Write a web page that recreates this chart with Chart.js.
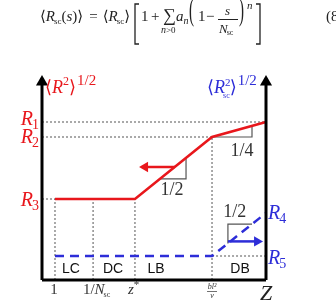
<!DOCTYPE html>
<html>
<head>
<meta charset="utf-8">
<script src="https://cdn.jsdelivr.net/npm/chart.js@4"></script>
<style>
html, body { margin: 0; background: #fff; }
</style>
</head>
<body>
<canvas id="scaling" width="336" height="303"></canvas>
<script>
// =======================================
// SCHEMATIC VALUES (arbitrary units, 0..10 on both axes)
// =======================================

// regime boundaries along z : 1, 1/Nsc, z*, bl^2/v
const boundaryX = [0.58, 2.28, 4.15, 7.59];

// levels R1..R5
const levelY = [7.9, 7.15, 4.05, 3.35, 1.2];

// <R^2>^1/2 (red) and <Rsc^2>^1/2 (blue)
const rgX = [0.58, 4.15, 7.59, 10];
const rgY = [4.05, 4.05, 7.15, 7.9];
const rscX = [0.58, 7.59, 10];
const rscY = [1.2, 1.2, 3.35];

// regime names and where they sit
const regimeNames = ["LC", "DC", "LB", "DB"];
const regimeX = [1.29, 3.17, 5.09, 8.84];

// slope marks
const slopeRed = [[5.27, 5.06], [6.43, 5.06], [6.43, 6.1]];
const slopeQuarter = [[7.59, 7.15], [9.375, 7.15], [9.375, 7.71]];
const slopeBlue = [[8.3, 1.83], [8.3, 2.79], [9.375, 2.79]];
const slopeText = ["1/2", "1/4", "1/2"];
const slopeTextAt = [[5.8, 4.25], [8.93, 6.2], [8.6, 3.15]];

// direction arrows
const arrowRed = [[5.94, 5.65], [4.6, 5.65]];
const arrowBlue = [[8.3, 1.93], [9.6, 1.93]];

const RED = "#e8171c";
const BLUE = "#2d2dd8";
const GREY = "#555";

const pts = (xs, ys) => xs.map((x, i) => ({ x: x, y: ys[i] }));
const pairs = a => a.map(p => ({ x: p[0], y: p[1] }));

// dotted guide lines
const guides = [
    [[0, levelY[0]], [10, levelY[0]]],
    [[0, levelY[1]], [boundaryX[3], levelY[1]]],
    [[0, levelY[2]], [boundaryX[0], levelY[2]]],
    [[boundaryX[3], levelY[4]], [10, levelY[4]]],
    [[boundaryX[0], 0], [boundaryX[0], levelY[2]]],
    [[boundaryX[1], 0], [boundaryX[1], levelY[2]]],
    [[boundaryX[2], 0], [boundaryX[2], levelY[2]]],
    [[boundaryX[3], 0], [boundaryX[3], levelY[1]]]
];

const datasets = [];

// axes
datasets.push({
    data: pairs([[0, 0], [0, 9.9]]),
    borderColor: "#000", borderWidth: 3,
    pointRadius: [0, 7], pointStyle: "triangle",
    pointBackgroundColor: "#000", pointBorderWidth: 0, pointRotation: 0
});
datasets.push({
    data: pairs([[10, 0], [10, 9.9]]),
    borderColor: "#000", borderWidth: 3,
    pointRadius: [0, 7], pointStyle: "triangle",
    pointBackgroundColor: "#000", pointBorderWidth: 0, pointRotation: 0
});
datasets.push({
    data: pairs([[0, 0], [10, 0]]),
    borderColor: "#000", borderWidth: 3, pointRadius: 0
});

// curves
datasets.push({
    data: pts(rgX, rgY),
    borderColor: RED, borderWidth: 2.5, pointRadius: 0
});
datasets.push({
    data: pts(rscX, rscY),
    borderColor: BLUE, borderWidth: 2.5, borderDash: [9, 6], pointRadius: 0
});

// arrows
datasets.push({
    data: pairs(arrowRed),
    borderColor: RED, borderWidth: 2.5,
    pointRadius: [0, 6], pointStyle: "triangle",
    pointBackgroundColor: RED, pointBorderWidth: 0, pointRotation: 270
});
datasets.push({
    data: pairs(arrowBlue),
    borderColor: BLUE, borderWidth: 2.5,
    pointRadius: [0, 6], pointStyle: "triangle",
    pointBackgroundColor: BLUE, pointBorderWidth: 0, pointRotation: 90
});

// slope triangles
[slopeRed, slopeQuarter, slopeBlue].forEach(s => {
    datasets.push({
        data: pairs(s),
        borderColor: GREY, borderWidth: 1.2, pointRadius: 0
    });
});

// guides
guides.forEach(g => {
    datasets.push({
        data: pairs(g),
        borderColor: GREY, borderWidth: 1, borderDash: [2, 2], pointRadius: 0
    });
});

datasets.forEach(d => { d.clip = false; d.tension = 0; d.fill = false; });


// =======================================
// TEXT
// =======================================

const SERIF = '"Liberation Serif", "DejaVu Serif", serif';
const SANS = '"Liberation Sans", Arial, sans-serif';

function put(ctx, s, x, y, font, color) {
    ctx.font = font;
    ctx.fillStyle = color;
    ctx.textAlign = "left";
    ctx.textBaseline = "alphabetic";
    ctx.fillText(s, x, y);
    return x + ctx.measureText(s).width;
}

function wid(ctx, s, font) {
    ctx.font = font;
    return ctx.measureText(s).width;
}

// R with a subscript number
function rLabel(ctx, sub, x, y, color, alignRight) {
    const fR = "italic 20px " + SERIF;
    const fS = "14px " + SERIF;
    let w = wid(ctx, "R", fR) + wid(ctx, sub, fS);
    let cx = alignRight ? x - w : x;
    cx = put(ctx, "R", cx, y, fR, color);
    put(ctx, sub, cx - 1, y + 4, fS, color);
}

function stretched(ctx, s, x, y, font, sy, color) {
    ctx.save();
    ctx.translate(x, y);
    ctx.scale(1, sy);
    put(ctx, s, 0, 0, font, color);
    ctx.restore();
}

function bracket(ctx, x, top, bot, dir, color) {
    ctx.save();
    ctx.strokeStyle = color;
    ctx.lineWidth = 1.3;
    ctx.beginPath();
    ctx.moveTo(x + dir * 4, top);
    ctx.lineTo(x, top);
    ctx.lineTo(x, bot);
    ctx.lineTo(x + dir * 4, bot);
    ctx.stroke();
    ctx.restore();
}

const labels = {
    id: "labels",
    afterDatasetsDraw(chart) {
        const ctx = chart.ctx;
        const X = v => chart.scales.x.getPixelForValue(v);
        const Y = v => chart.scales.y.getPixelForValue(v);

        // ---- equation ----
        const ink = "#222";
        const F = "15px " + SERIF;
        const FI = "italic 15px " + SERIF;
        const FS = "9px " + SERIF;
        const FSI = "italic 10px " + SERIF;
        let x = 40;
        x = put(ctx, "⟨", x, 21, F, ink);
        x = put(ctx, "R", x, 21, FI, ink);
        x = put(ctx, "sc", x - 1, 24, FS, ink);
        x = put(ctx, "(", x, 21, F, ink);
        x = put(ctx, "s", x, 21, FI, ink);
        x = put(ctx, ")", x, 21, F, ink);
        x = put(ctx, "⟩", x, 21, F, ink);
        x = put(ctx, "=", x + 6, 21, F, ink);
        x = put(ctx, "⟨", x + 5, 21, F, ink);
        x = put(ctx, "R", x, 21, FI, ink);
        x = put(ctx, "sc", x - 1, 24, FS, ink);
        x = put(ctx, "⟩", x, 21, F, ink);
        bracket(ctx, 135, 4, 44, 1, ink);
        put(ctx, "1", 141, 21, F, ink);
        put(ctx, "+", 151, 21, F, ink);
        put(ctx, "∑", 163, 21, "18px " + SERIF, ink);
        x = put(ctx, "n", 161, 33, FSI, ink);
        put(ctx, ">0", x, 33, FS, ink);
        x = put(ctx, "a", 176, 21, FI, ink);
        put(ctx, "n", x, 24, FSI, ink);
        stretched(ctx, "(", 189, 20, F, 2.1, ink);
        put(ctx, "1", 198, 21, F, ink);
        put(ctx, "−", 206, 21, F, ink);
        put(ctx, "s", 225, 15, "italic 13px " + SERIF, ink);
        ctx.fillStyle = ink;
        ctx.fillRect(218, 19, 20, 1);
        x = put(ctx, "N", 219, 33, "italic 13px " + SERIF, ink);
        put(ctx, "sc", x - 1, 35, "8px " + SERIF, ink);
        stretched(ctx, ")", 239, 20, F, 2.1, ink);
        put(ctx, "n", 247, 9, "italic 11px " + SERIF, ink);
        bracket(ctx, 260, 4, 44, -1, ink);
        put(ctx, "(8", 326, 21, F, ink);

        // ---- axis titles ----
        x = put(ctx, "⟨", 45, 93, "18px " + SERIF, RED);
        x = put(ctx, "R", x, 93, "italic 18px " + SERIF, RED);
        x = put(ctx, "2", x, 85, "12px " + SERIF, RED);
        x = put(ctx, "⟩", x, 93, "18px " + SERIF, RED);
        put(ctx, "1/2", x + 1, 85, "15px " + SERIF, RED);

        x = put(ctx, "⟨", 207, 93, "18px " + SERIF, BLUE);
        x = put(ctx, "R", x, 93, "italic 18px " + SERIF, BLUE);
        put(ctx, "2", x, 86, "11px " + SERIF, BLUE);
        x = put(ctx, "sc", x - 2, 98, "8px " + SERIF, BLUE);
        x = put(ctx, "⟩", x, 93, "18px " + SERIF, BLUE);
        put(ctx, "1/2", x + 1, 85, "15px " + SERIF, BLUE);

        // ---- level labels ----
        rLabel(ctx, "1", X(0) - 2, Y(levelY[0]) + 3, RED, true);
        rLabel(ctx, "2", X(0) - 2, Y(levelY[1]) + 6, RED, true);
        rLabel(ctx, "3", X(0) - 2, Y(levelY[2]) + 7, RED, true);
        rLabel(ctx, "4", X(10) + 2, Y(levelY[3]) + 6, BLUE, false);
        rLabel(ctx, "5", X(10) + 2, Y(levelY[4]) + 8, BLUE, false);

        // ---- slopes ----
        slopeText.forEach((s, i) => {
            ctx.font = "18px " + SERIF;
            ctx.fillStyle = "#333";
            ctx.textAlign = "center";
            ctx.fillText(s, X(slopeTextAt[i][0]), Y(slopeTextAt[i][1]));
        });

        // ---- regimes ----
        regimeNames.forEach((s, i) => {
            ctx.font = "14px " + SANS;
            ctx.fillStyle = "#111";
            ctx.textAlign = "center";
            ctx.fillText(s, X(regimeX[i]), 273);
        });

        // ---- z ticks ----
        ctx.textAlign = "center";
        ctx.font = "15px " + SERIF;
        ctx.fillStyle = "#333";
        ctx.fillText("1", X(boundaryX[0]) - 1, 294);

        let w = wid(ctx, "1/", "15px " + SERIF) + wid(ctx, "N", "italic 15px " + SERIF) + wid(ctx, "sc", "8px " + SERIF);
        x = X(boundaryX[1]) + 4 - w / 2;
        x = put(ctx, "1/", x, 294, "15px " + SERIF, "#333");
        x = put(ctx, "N", x, 294, "italic 15px " + SERIF, "#333");
        put(ctx, "sc", x - 1, 297, "8px " + SERIF, "#333");

        x = put(ctx, "z", X(boundaryX[2]) - 7, 294, "italic 15px " + SERIF, "#333");
        put(ctx, "*", x, 288, "11px " + SERIF, "#333");

        ctx.textAlign = "center";
        ctx.font = "italic 8px " + SERIF;
        ctx.fillStyle = "#333";
        ctx.fillText("bl²", X(boundaryX[3]), 289);
        ctx.fillRect(X(boundaryX[3]) - 5, 291, 10, 0.7);
        ctx.fillText("v", X(boundaryX[3]), 298);

        ctx.font = "italic 22px " + SERIF;
        ctx.fillStyle = "#222";
        ctx.fillText("Z", X(10), 300);
    }
};


// =======================================
// CHART
// =======================================

new Chart(document.getElementById("scaling"), {
    type: "line",
    data: { datasets: datasets },
    options: {
        responsive: false,
        animation: false,
        events: [],
        layout: {
            padding: { left: 42, right: 70, top: 80, bottom: 23 }
        },
        scales: {
            x: { type: "linear", min: 0, max: 10, display: false },
            y: { type: "linear", min: 0, max: 10, display: false }
        },
        plugins: {
            legend: { display: false },
            tooltip: { enabled: false }
        }
    },
    plugins: [labels]
});
</script>
</body>
</html>
